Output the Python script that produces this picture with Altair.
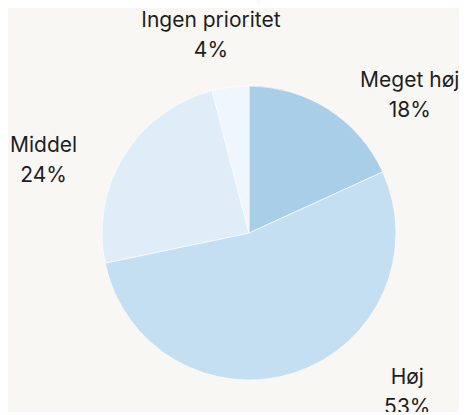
import altair as alt
import pandas as pd

categories = ["Meget høj", "Høj", "Middel", "Ingen prioritet"]
values = [18, 53, 24, 4]
pct_labels = ["18%", "53%", "24%", "4%"]
colors = ["#a9cfe8", "#c5dff2", "#deedf7", "#eff6fd"]

df = pd.DataFrame({
    "kategori": categories,
    "andel": values,
    "pct": pct_labels,
    "idx": list(range(len(categories))),
})
df["label"] = df["kategori"] + "\n" + df["pct"]

CX, CY = 241, 225

pie = alt.Chart(df).mark_arc(outerRadius=147, stroke="#ffffff", strokeWidth=0.6).encode(
    theta=alt.Theta("andel:Q", stack=True),
    order=alt.Order("idx:Q", sort="ascending"),
    color=alt.Color("kategori:N",
                    scale=alt.Scale(domain=categories, range=colors),
                    legend=None),
    x=alt.value(CX),
    y=alt.value(CY),
)

# stacking done before filtering so each label sits at its slice's mid angle
label_base = alt.Chart(df).transform_window(
    cum="sum(andel)", sort=[alt.SortField("idx", order="ascending")],
    frame=[None, 0],
).transform_joinaggregate(
    total="sum(andel)"
).transform_calculate(
    mid="(datum.cum - datum.andel / 2) / datum.total"
)

offsets = {
    "Meget høj": (58, 8),
    "Høj": (99, -36),
    "Middel": (-44, 13),
    "Ingen prioritet": (-14, -24),
}

label_layers = []
for cat in categories:
    dx, dy = offsets[cat]
    label_layers.append(
        label_base.transform_filter(alt.datum.kategori == cat).mark_text(
            radius=190, dx=dx, dy=dy, align="center", baseline="middle",
            lineBreak="\n", lineHeight=30, font="Inter", fontSize=21,
            color="#1e1e1e",
        ).encode(
            theta=alt.Theta("mid:Q", stack=None,
                            scale=alt.Scale(domain=[0, 1], range=[0, 6.283185307179586])),
            text="label:N",
            x=alt.value(CX),
            y=alt.value(CY),
        )
    )

chart = alt.layer(pie, *label_layers).resolve_scale(theta="independent").properties(
    width=451, height=404, padding=0, autosize="none",
    background="#f9f7f4",
).configure_view(stroke=None)

chart.save("out.html", embed_options={"renderer": "svg", "actions": False})
